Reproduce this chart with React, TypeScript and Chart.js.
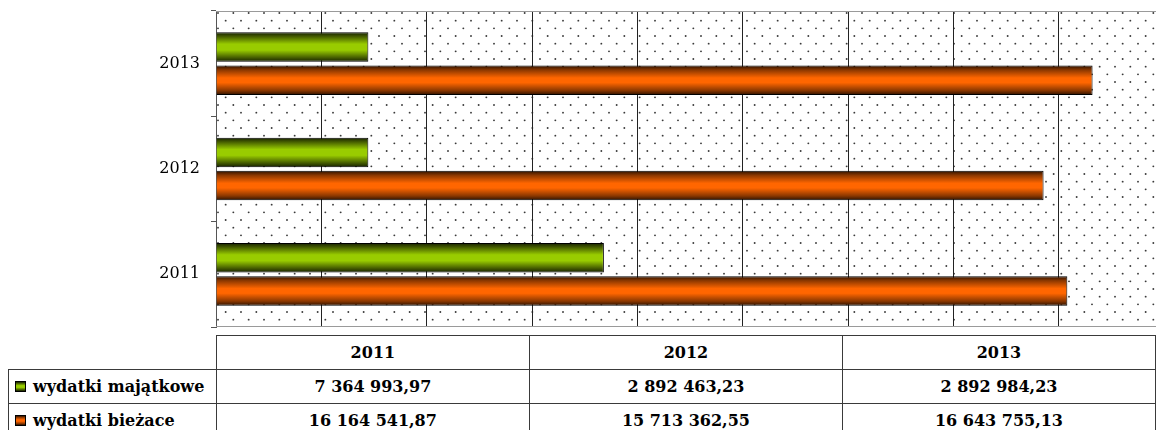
import React, { useEffect, useRef } from 'react';
import { Chart, registerables } from 'chart.js';

Chart.register(...registerables);

// ---- data ----
const years = ['2011', '2012', '2013'];
const seriesNames = ['wydatki majątkowe', 'wydatki bieżace'];
const majatkowe = [7364993.97, 2892463.23, 2892984.23];
const biezace = [16164541.87, 15713362.55, 16643755.13];
const axisMin = 0;
const axisMax = 18000000;
const axisStep = 2000000;

const greenStops: [number, string][] = [
  [0, '#141f00'],
  [0.12, '#3d5200'],
  [0.4, '#99cc00'],
  [0.6, '#99cc00'],
  [0.88, '#3d5200'],
  [1, '#141f00'],
];
const orangeStops: [number, string][] = [
  [0, '#2b1100'],
  [0.15, '#8a3700'],
  [0.42, '#ff6600'],
  [0.58, '#ff6600'],
  [0.85, '#8a3700'],
  [1, '#2b1100'],
];

const fmt = (n: number) => {
  const [i, d] = n.toFixed(2).split('.');
  return i.replace(/\B(?=(\d{3})+(?!\d))/g, ' ') + ',' + d;
};

const makeGrad = (ctx: any, stops: [number, string][]) => {
  const el = ctx.element;
  if (ctx.type !== 'data' || !el || typeof el.y !== 'number' || !el.height || isNaN(el.y)) {
    return stops[2][1];
  }
  const top = el.y - el.height / 2;
  const bottom = el.y + el.height / 2;
  const g = ctx.chart.ctx.createLinearGradient(0, top, 0, bottom);
  stops.forEach(([o, c]) => g.addColorStop(o, c));
  return g;
};

const cssGrad = (stops: [number, string][]) =>
  'linear-gradient(to bottom, ' + stops.map(([o, c]) => `${c} ${o * 100}%`).join(', ') + ')';

const makePattern = () => {
  const c = document.createElement('canvas');
  c.width = 46;
  c.height = 46;
  const x = c.getContext('2d')!;
  x.fillStyle = '#ffffff';
  x.fillRect(0, 0, 46, 46);
  x.fillStyle = '#3a3a3a';
  const dx = 46 / 3;
  const dy = 46 / 6;
  for (let r = 0; r < 6; r++) {
    for (let k = 0; k < 3; k++) {
      const px = k * dx + (r % 2 ? dx / 2 : 0) + 2;
      const py = r * dy + 2;
      x.beginPath();
      x.arc(px, py, 0.95, 0, Math.PI * 2);
      x.fill();
    }
  }
  return c;
};

const bgPlugin = {
  id: 'dotsBg',
  beforeDraw(chart: any) {
    const { ctx, chartArea: a } = chart;
    ctx.save();
    ctx.fillStyle = '#ffffff';
    ctx.fillRect(0, 0, chart.width, chart.height);
    const pat = ctx.createPattern(makePattern(), 'repeat');
    ctx.translate(a.left, a.top);
    ctx.fillStyle = pat;
    ctx.fillRect(0, 0, a.right - a.left, a.bottom - a.top);
    ctx.restore();
  },
  beforeDatasetsDraw(chart: any) {
    const { ctx, chartArea: a } = chart;
    ctx.save();
    ctx.strokeStyle = '#9a9a9a';
    ctx.lineWidth = 1;
    ctx.beginPath();
    ctx.moveTo(a.left, a.top + 0.5);
    ctx.lineTo(a.right, a.top + 0.5);
    ctx.moveTo(a.left, a.bottom - 0.5);
    ctx.lineTo(a.right, a.bottom - 0.5);
    ctx.stroke();
    ctx.restore();
  },
};

const serif = '"DejaVu Serif", serif';

export default function App() {
  const ref = useRef<HTMLCanvasElement>(null);

  useEffect(() => {
    if (!ref.current) return;
    const labels = [...years].reverse();
    const chart = new Chart(ref.current, {
      type: 'bar',
      data: {
        labels,
        datasets: [
          {
            label: seriesNames[0],
            data: [...majatkowe].reverse(),
            backgroundColor: (c: any) => makeGrad(c, greenStops),
            borderColor: '#000000',
            borderWidth: 1,
            categoryPercentage: 0.63,
            barPercentage: 0.89,
          },
          {
            label: seriesNames[1],
            data: [...biezace].reverse(),
            backgroundColor: (c: any) => makeGrad(c, orangeStops),
            borderColor: '#000000',
            borderWidth: 1,
            categoryPercentage: 0.63,
            barPercentage: 0.89,
          },
        ],
      },
      options: {
        indexAxis: 'y',
        animation: false,
        responsive: false,
        maintainAspectRatio: false,
        devicePixelRatio: 1,
        layout: { padding: { top: 11, right: 6, bottom: 5, left: 0 } },
        plugins: {
          legend: { display: false },
          tooltip: { enabled: false },
          title: { display: false },
        },
        scales: {
          x: {
            type: 'linear',
            min: axisMin,
            max: axisMax,
            ticks: { stepSize: axisStep, display: false, padding: 0 },
            grid: { color: '#222222', lineWidth: 1, drawTicks: false },
            border: { display: false },
            afterFit: (s: any) => {
              s.height = 0;
              s.paddingLeft = 0;
              s.paddingRight = 0;
              s.paddingTop = 0;
              s.paddingBottom = 0;
            },
          },
          y: {
            type: 'category',
            grid: {
              drawOnChartArea: false,
              drawTicks: true,
              tickLength: 5,
              color: '#555555',
              offset: true,
            },
            border: { display: true, color: '#555555', width: 1 },
            ticks: {
              color: '#000000',
              padding: 11,
              font: { family: serif, size: 16 },
            },
            afterFit: (s: any) => {
              s.width = 216;
              s.paddingTop = 0;
              s.paddingBottom = 0;
              s.paddingLeft = 0;
              s.paddingRight = 0;
            },
          },
        },
      },
      plugins: [bgPlugin],
    });
    chart.update();
    return () => chart.destroy();
  }, []);

  const cellBase: React.CSSProperties = {
    border: '1px solid #3a3a3a',
    height: 33,
    padding: 0,
    textAlign: 'center',
    fontFamily: serif,
    fontWeight: 'bold',
    fontSize: 16,
    color: '#000',
    width: 315,
  };
  const labelCell: React.CSSProperties = {
    ...cellBase,
    width: 207,
    textAlign: 'left',
    whiteSpace: 'nowrap',
  };
  const swatch = (stops: [number, string][]): React.CSSProperties => ({
    display: 'inline-block',
    width: 9,
    height: 9,
    border: '1px solid #000',
    background: cssGrad(stops),
    marginLeft: 6,
    marginRight: 7,
    verticalAlign: '0px',
  });

  return (
    <div
      style={{
        position: 'fixed',
        left: 0,
        top: 0,
        width: 1156,
        height: 430,
        overflow: 'hidden',
        background: '#fff',
      }}
    >
      <canvas
        ref={ref}
        width={1170}
        height={332}
        style={{ position: 'absolute', left: 0, top: 0, width: 1170, height: 332 }}
      />
      <table
        style={{
          position: 'absolute',
          left: 8,
          top: 335,
          borderCollapse: 'collapse',
          tableLayout: 'fixed',
        }}
      >
        <tbody>
          <tr>
            <td
              style={{
                ...labelCell,
                borderTop: 'none',
                borderLeft: 'none',
              }}
            />
            {years.map((y) => (
              <td key={y} style={cellBase}>
                {y}
              </td>
            ))}
          </tr>
          <tr>
            <td style={labelCell}>
              <span style={swatch(greenStops)} />
              {seriesNames[0]}
            </td>
            {majatkowe.map((v, i) => (
              <td key={i} style={cellBase}>
                {fmt(v)}
              </td>
            ))}
          </tr>
          <tr>
            <td style={labelCell}>
              <span style={swatch(orangeStops)} />
              {seriesNames[1]}
            </td>
            {biezace.map((v, i) => (
              <td key={i} style={cellBase}>
                {fmt(v)}
              </td>
            ))}
          </tr>
        </tbody>
      </table>
    </div>
  );
}
